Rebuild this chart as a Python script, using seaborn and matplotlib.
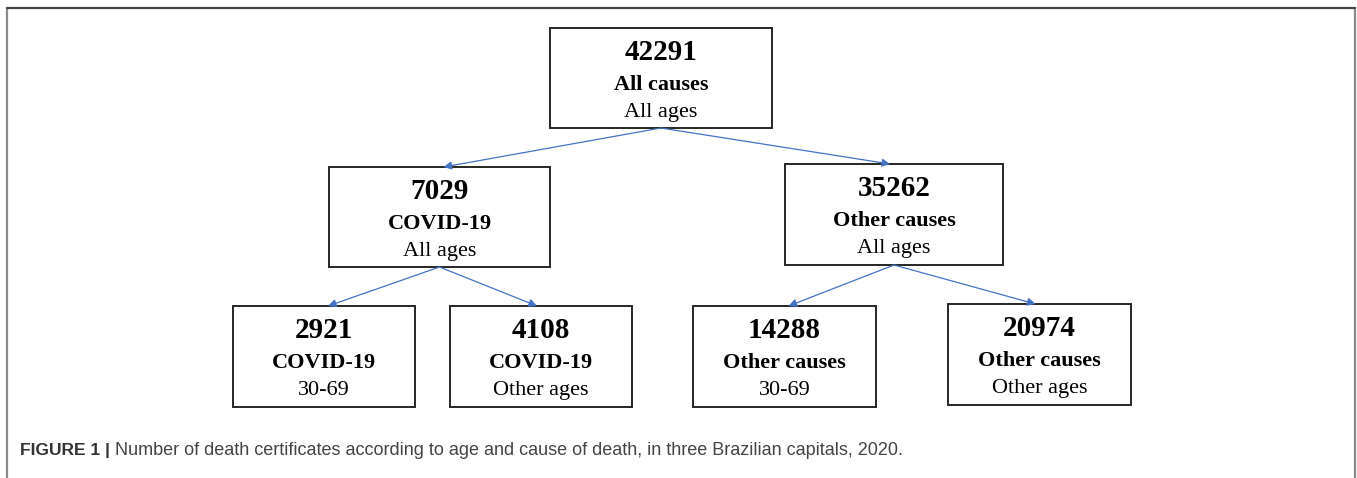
import matplotlib
matplotlib.use('Agg')
import matplotlib.pyplot as plt
from matplotlib.patches import Rectangle
import seaborn as sns

sns.set_theme(style='white')

# Data: death certificate counts per node of the tree
counts = [42291, 7029, 35262, 2921, 4108, 14288, 20974]
causes = ['All causes', 'COVID-19', 'Other causes', 'COVID-19', 'COVID-19',
          'Other causes', 'Other causes']
ages = ['All ages', 'All ages', 'All ages', '30-69', 'Other ages', '30-69',
        'Other ages']
parents = [None, 0, 0, 1, 1, 2, 2]

caption_bold = 'FIGURE 1 |'
caption_text = ('Number of death certificates according to age and cause of death, '
                'in three Brazilian capitals, 2020.')

# Layout (pixel space): left, top, right, bottom of each box
box_left = [550, 329, 785, 233, 450, 693, 948]
box_top = [28, 167, 164, 306, 306, 306, 304]
box_right = [772, 550, 1003, 415, 632, 876, 1131]
box_bottom = [128, 267, 265, 407, 407, 407, 405]

W, H = 1357, 478
fig = plt.figure(figsize=(W / 100, H / 100), dpi=100)
ax = fig.add_axes([0, 0, 1, 1])
ax.set_xlim(0, W)
ax.set_ylim(H, 0)
ax.axis('off')

serif = ['Liberation Serif', 'DejaVu Serif']

# Outer frame
ax.plot([7, 7], [8, H + 5], color='#8a8a8a', lw=1.6, clip_on=False)
ax.plot([1355, 1355], [8, H + 5], color='#8a8a8a', lw=1.6, clip_on=False)
ax.plot([7, 1355], [8, 8], color='#444444', lw=1.6)

# Boxes and labels
for i in range(len(counts)):
    l, t, r, b = box_left[i], box_top[i], box_right[i], box_bottom[i]
    ax.add_patch(Rectangle((l, t), r - l, b - t, fill=False,
                           edgecolor='#262626', lw=1.4))
    cx = (l + r) / 2
    ax.text(cx, t + 32, str(counts[i]), ha='center', va='baseline',
            family=serif, fontweight='bold', fontsize=21, color='black')
    ax.text(cx, t + 62, causes[i], ha='center', va='baseline',
            family=serif, fontweight='bold', fontsize=16, color='black')
    ax.text(cx, t + 89, ages[i], ha='center', va='baseline',
            family=serif, fontsize=16, color='black')

# Arrows from parent to child
for i, p in enumerate(parents):
    if p is None:
        continue
    px = (box_left[p] + box_right[p]) / 2
    py = box_bottom[p]
    cx = (box_left[i] + box_right[i]) / 2
    shift = 4 if px > cx else -4
    ax.annotate('', xy=(cx + shift, box_top[i]), xytext=(px, py),
                arrowprops=dict(arrowstyle='-|>', color='#4472c4', lw=0.9,
                                mutation_scale=12, shrinkA=0, shrinkB=0))

# Caption
t1 = ax.text(20, 455, caption_bold, ha='left', va='baseline',
             family=['Liberation Sans', 'DejaVu Sans'], fontweight='bold',
             fontsize=12.5, color='#333333')
fig.canvas.draw()
bb = t1.get_window_extent(renderer=fig.canvas.get_renderer())
x2 = bb.x1 + 5
ax.text(x2, 455, caption_text, ha='left', va='baseline',
        family=['Liberation Sans', 'DejaVu Sans'], fontsize=13, color='#444444')

fig.savefig('out.png', dpi=100)
